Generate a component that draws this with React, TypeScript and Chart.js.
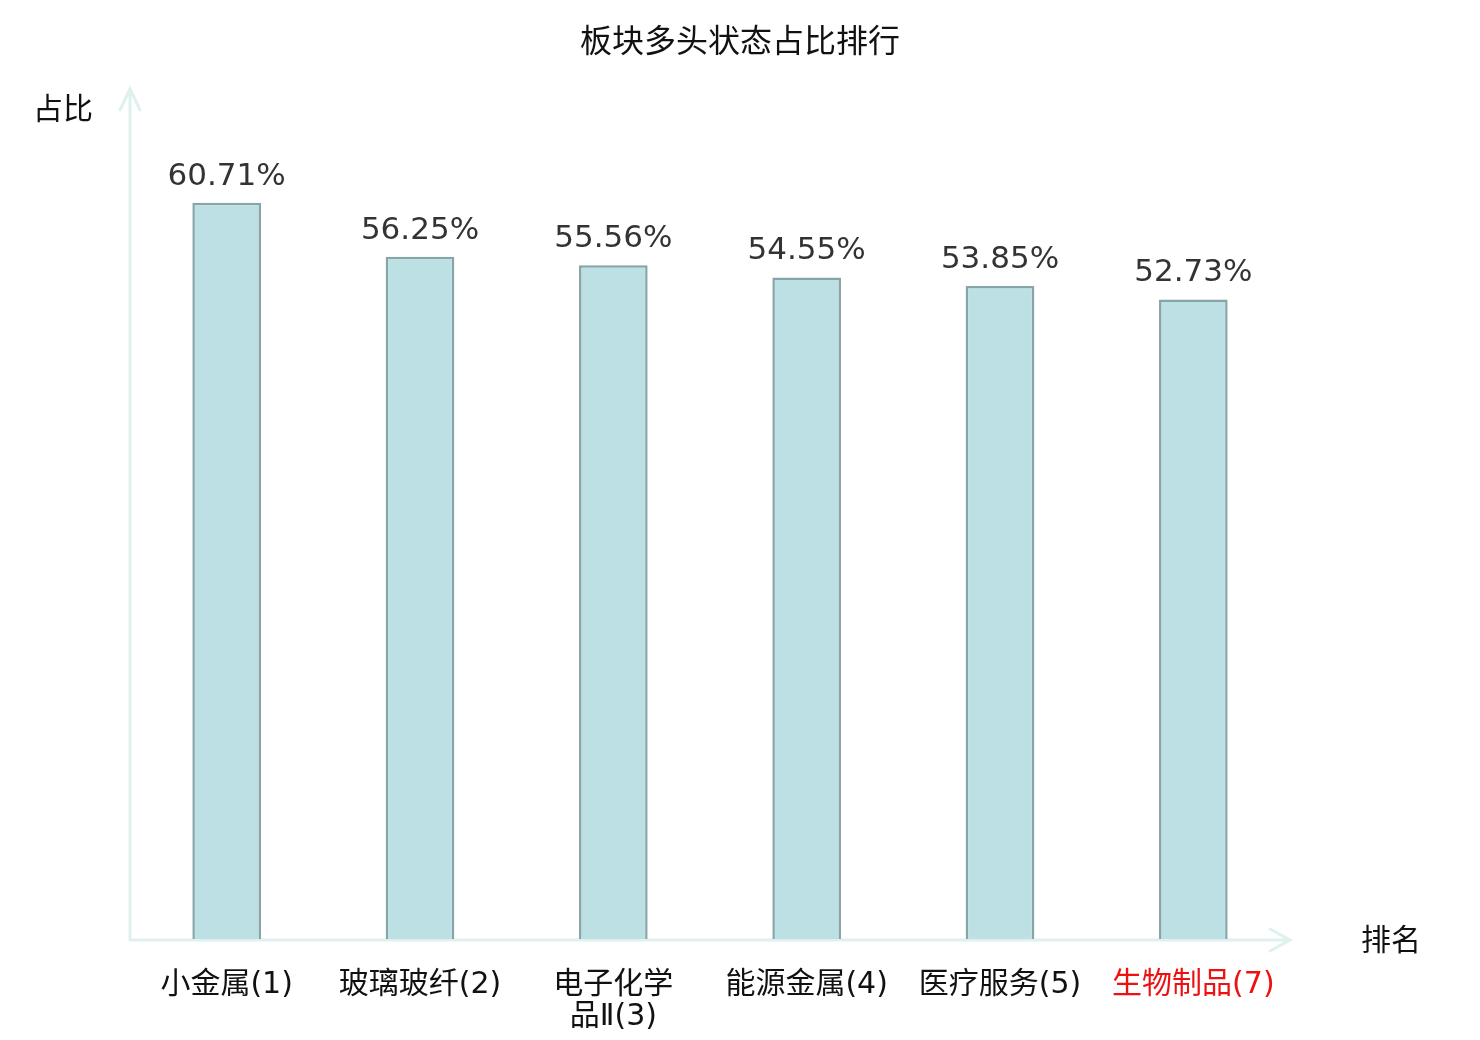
import { useEffect, useRef } from "react";
import { Chart, registerables } from "chart.js";

Chart.register(...registerables);

const sectors = ["小金属(1)", "玻璃玻纤(2)", "电子化学品Ⅱ(3)", "能源金属(4)", "医疗服务(5)", "生物制品(7)"];
const tickLabels = [["小金属(1)"], ["玻璃玻纤(2)"], ["电子化学", "品Ⅱ(3)"], ["能源金属(4)"], ["医疗服务(5)"], ["生物制品(7)"]];
const shares = [60.71, 56.25, 55.56, 54.55, 53.85, 52.73];
const highlighted = ["生物制品(7)"];

const AXIS_COLOR = "#dff1ee";
const CJK = "'DejaVu Sans', 'Noto Sans CJK SC', sans-serif";

const axisArrows = {
  id: "axisArrows",
  beforeDatasetsDraw(chart: Chart) {
    const { ctx, chartArea, width } = chart;
    const { left, right, top, bottom } = chartArea;
    ctx.save();
    ctx.strokeStyle = AXIS_COLOR;
    ctx.lineWidth = 3;
    ctx.lineCap = "round";
    ctx.beginPath();
    ctx.moveTo(left, bottom + 1);
    ctx.lineTo(left, top - 1);
    ctx.moveTo(left - 10, top + 20);
    ctx.lineTo(left, top - 1);
    ctx.lineTo(left + 10, top + 20);
    ctx.moveTo(left, bottom + 1);
    ctx.lineTo(right, bottom + 1);
    ctx.moveTo(right - 20, bottom - 10);
    ctx.lineTo(right, bottom + 1);
    ctx.lineTo(right - 20, bottom + 12);
    ctx.stroke();

    ctx.fillStyle = "#111";
    ctx.textAlign = "center";
    ctx.textBaseline = "middle";
    // chart title, centred on the whole canvas
    ctx.font = `32px ${CJK}`;
    ctx.fillText("板块多头状态占比排行", width / 2, 44);
    // axis titles
    ctx.font = `30px ${CJK}`;
    ctx.fillText("占比", 63, top + 21);
    ctx.fillText("排名", right + 101, bottom + 3);
    ctx.restore();
  },
};

const valueLabels = {
  id: "valueLabels",
  afterDatasetsDraw(chart: Chart) {
    const { ctx } = chart;
    const meta = chart.getDatasetMeta(0);
    ctx.save();
    ctx.fillStyle = "#333";
    ctx.font = "31px 'DejaVu Sans', sans-serif";
    ctx.textAlign = "center";
    ctx.textBaseline = "alphabetic";
    meta.data.forEach((bar, i) => {
      ctx.fillText(shares[i].toFixed(2) + "%", bar.x, bar.y - 18);
    });
    ctx.restore();
  },
};

export default function App() {
  const canvasRef = useRef<HTMLCanvasElement>(null);
  const chartRef = useRef<Chart | null>(null);

  useEffect(() => {
    document.body.style.margin = "0";
    if (!canvasRef.current) return;
    if (chartRef.current) chartRef.current.destroy();

    chartRef.current = new Chart(canvasRef.current, {
      type: "bar",
      data: {
        labels: tickLabels,
        datasets: [
          {
            label: "占比",
            data: shares,
            backgroundColor: "#bce0e3",
            borderColor: "#87a5a6",
            borderWidth: 2.5,
            barPercentage: 0.355,
            categoryPercentage: 1,
          },
        ],
      },
      options: {
        responsive: false,
        animation: false,
        devicePixelRatio: 1,
        layout: { padding: { left: 130, right: 190, top: 90, bottom: 0 } },
        plugins: {
          legend: { display: false },
          tooltip: { enabled: false },
          title: { display: false },
        },
        scales: {
          x: {
            grid: { display: false, drawTicks: false },
            border: { display: false },
            ticks: {
              padding: 30,
              maxRotation: 0,
              autoSkip: false,
              color: (c) => (highlighted.includes(sectors[c.index]) ? "#ee1111" : "#111"),
              font: { family: CJK, size: 30, lineHeight: "32px" },
            },
            afterFit: (scale) => {
              scale.height = 101;
            },
          },
          y: {
            display: false,
            min: 0,
            max: 70,
          },
        },
      },
      plugins: [axisArrows, valueLabels],
    });

    return () => {
      if (chartRef.current) {
        chartRef.current.destroy();
        chartRef.current = null;
      }
    };
  }, []);

  return (
    <div style={{ width: 1480, height: 1040, background: "#fff" }}>
      <canvas ref={canvasRef} width={1480} height={1040} />
    </div>
  );
}
